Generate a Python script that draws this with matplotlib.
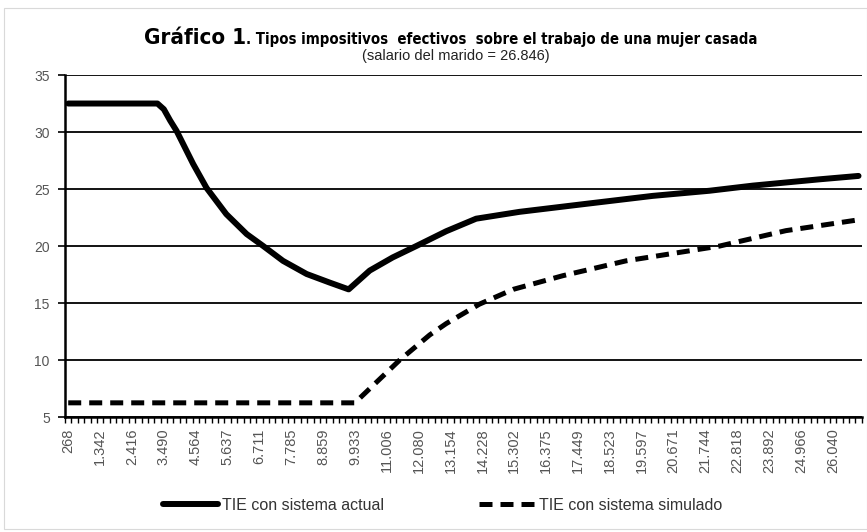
import matplotlib
matplotlib.use("Agg")
from matplotlib import pyplot as plt
from matplotlib.patches import Rectangle
from matplotlib import font_manager
import numpy as np

# x axis: salario de la mujer (euros), one category every ~214.8
first_salary = 268
step = 214.8
n_categories = 125

tick_labels = ["268", "1.342", "2.416", "3.490", "4.564", "5.637", "6.711", "7.785",
               "8.859", "9.933", "11.006", "12.080", "13.154", "14.228", "15.302",
               "16.375", "17.449", "18.523", "19.597", "20.671", "21.744", "22.818",
               "23.892", "24.966", "26.040"]
tick_values = [268, 1342, 2416, 3490, 4564, 5637, 6711, 7785, 8859, 9933, 11006,
               12080, 13154, 14228, 15302, 16375, 17449, 18523, 19597, 20671,
               21744, 22818, 23892, 24966, 26040]

# TIE con sistema actual
actual_x = [268, 3275, 3490, 3705, 3920, 4478, 4929, 5595, 6282, 6841, 7507,
            8302, 9075, 9719, 10428, 11201, 11996, 13006, 14015, 15476, 17710,
            19965, 21877, 23338, 25572, 26900]
actual_y = [32.5, 32.5, 32.0, 31.0, 30.1, 27.2, 25.1, 22.8, 21.05, 20.0, 18.7,
            17.55, 16.8, 16.2, 17.85, 19.0, 20.0, 21.3, 22.4, 23.0, 23.7,
            24.4, 24.85, 25.3, 25.85, 26.15]

# TIE con sistema simulado
sim_x = [268, 9933, 10149, 11438, 12447, 13006, 14122, 15261, 16936, 19062,
         22220, 24453, 26900]
sim_y = [6.25, 6.25, 6.8, 10.0, 12.2, 13.2, 14.9, 16.2, 17.4, 18.7,
         20.0, 21.35, 22.3]

plt.rcParams['font.family'] = ['Liberation Sans', 'DejaVu Sans']

fig = plt.figure(figsize=(8.67, 5.32), dpi=100)
ax = fig.add_axes([0.075, 0.216, 0.919, 0.643])

# light frame around the chart area
fig.patches.append(Rectangle((0.005, 0.006), 0.995, 0.979, transform=fig.transFigure,
                             fill=False, edgecolor='#d9d9d9', linewidth=0.8))

ax.plot(actual_x, actual_y, color='black', linewidth=4.3, solid_joinstyle='round',
        solid_capstyle='round', label='TIE con sistema actual', zorder=3)
dashed, = ax.plot(sim_x, sim_y, color='black', linewidth=3.6,
                  label='TIE con sistema simulado', zorder=3)
dashed.set_dashes((2.6, 1.6))

ax.set_ylim(5, 35)
ax.set_yticks([5, 10, 15, 20, 25, 30, 35])
ax.yaxis.grid(True, color='black', linewidth=1.3)
ax.set_axisbelow(True)

left = first_salary - step / 2
ax.set_xlim(left, left + step * n_categories)
ax.set_xticks(tick_values)
ax.set_xticklabels(tick_labels, rotation=90)
ax.set_xticks(left + step * np.arange(n_categories + 1), minor=True)

for side in ['top', 'right']:
    ax.spines[side].set_visible(False)
ax.spines['left'].set_linewidth(1.8)
ax.spines['bottom'].set_linewidth(1.8)

ax.tick_params(axis='y', length=5, width=1.2, labelsize=10, labelcolor='#555555', pad=6)
ax.tick_params(axis='x', which='major', length=0, labelsize=10.5, labelcolor='#555555', pad=8)
ax.tick_params(axis='x', which='minor', length=4, width=1.0)

# title: big bold "Gráfico 1" followed by smaller bold text, condensed face
title_font = font_manager.FontProperties(family='DejaVu Sans', stretch='condensed',
                                         weight='bold')
t1 = fig.text(0.166, 0.918, "Gráfico 1", fontproperties=title_font, va='baseline')
t1.set_fontsize(16)
fig.canvas.draw()
bb = t1.get_window_extent()
x_after = fig.transFigure.inverted().transform((bb.x1, bb.y0))[0]
t2 = fig.text(x_after, 0.918, ". Tipos impositivos  efectivos  sobre el trabajo de una mujer casada",
              fontproperties=title_font, va='baseline')
t2.set_fontsize(10.7)
fig.text(0.526, 0.887, "(salario del marido = 26.846)", fontsize=10.5, color='#222222',
         ha='center', va='baseline')

fig.legend(loc='center', bbox_to_anchor=(0.51, 0.05), ncol=2, frameon=False,
           fontsize=11.5, handlelength=3.5, columnspacing=6, handletextpad=0.2,
           labelcolor='#333333')

fig.savefig('out.png', dpi=100)
